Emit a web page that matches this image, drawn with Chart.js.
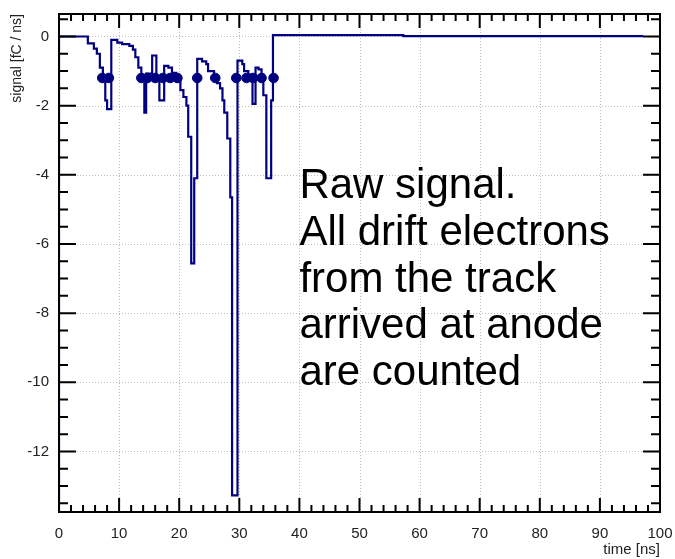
<!DOCTYPE html>
<html><head><meta charset="utf-8">
<script src="https://cdn.jsdelivr.net/npm/chart.js@4/dist/chart.umd.min.js"></script>
<style>html,body{margin:0;padding:0;background:#fff}#wrap{position:relative;width:675px;height:559px}</style>
</head><body><div id="wrap"><canvas id="c"></canvas></div>
<script>
// ---- data ----
const timeNs = [0, 0, 4.8, 5.8, 6.3, 6.8, 7.3, 7.7, 8.0, 8.7, 9.7, 10.5, 11.7, 12.3, 12.7, 13.2, 13.7, 14.2, 14.5, 15.5,
  16.2, 16.7, 17.5, 18.2, 18.8, 19.5, 20.2, 20.7, 21.2, 21.5, 22.0, 22.5, 23.0, 23.8, 24.5, 24.8, 25.8, 26.3, 26.8, 27.2,
  27.5, 28.0, 28.5, 28.8, 29.7, 30.5, 30.8, 31.5, 32.2, 32.7, 33.2, 33.7, 34.0, 34.5, 35.3, 35.6, 57.3, 97.2];
const signalFCns = [-13.75, 0, -0.2, -0.35, -0.5, -0.9, -1.2, -1.85, -2.1, -0.1, -0.18, -0.22, -0.27, -0.38, -0.6, -0.9, -1.2, -2.2, -1.07, -0.55,
  -1.2, -1.85, -0.85, -0.9, -1.05, -1.3, -1.55, -1.75, -2.0, -2.9, -6.56, -4.1, -0.65, -0.72, -0.8, -1.0, -1.2, -1.35, -1.5, -1.85,
  -2.2, -2.95, -4.65, -13.27, -0.7, -0.8, -1.0, -1.1, -1.95, -0.9, -0.95, -1.1, -1.7, -4.1, -1.85, 0.04, 0.01, 0.01];
const clusterTimes = [7.2, 8.3, 13.7, 14.7, 16.0, 17.3, 18.5, 19.7, 23.0, 26.0, 29.5, 31.2, 32.3, 33.7, 35.7];
const clusterLevel = [-1.2, -1.2, -1.2, -1.2, -1.2, -1.2, -1.2, -1.2, -1.2, -1.2, -1.2, -1.2, -1.2, -1.2, -1.2];
const xTicks = [0, 10, 20, 30, 40, 50, 60, 70, 80, 90, 100];
const yTicks = [0, -2, -4, -6, -8, -10, -12];
const xRange = [0, 100];
const yRange = [-13.75, 0.65];
const noteLines = ["Raw signal.", "All drift electrons", "from the track", "arrived at anode", "are counted"];

const NAVY = '#000080';
const FONT = '"Liberation Sans", Arial, sans-serif';

const rootFrame = {
  id: 'rootFrame',
  beforeDatasetsDraw(chart) {
    const {ctx, chartArea: a, scales: {x, y}} = chart;
    ctx.save();
    ctx.strokeStyle = '#bdbdbd'; ctx.lineWidth = 1; ctx.setLineDash([1, 2]);
    xTicks.forEach(v => {
      if (v <= x.min || v >= x.max) return;
      const px = Math.round(x.getPixelForValue(v)) + 0.5;
      ctx.beginPath(); ctx.moveTo(px, a.top); ctx.lineTo(px, a.bottom); ctx.stroke();
    });
    yTicks.forEach(v => {
      const py = Math.round(y.getPixelForValue(v)) + 0.5;
      ctx.beginPath(); ctx.moveTo(a.left, py); ctx.lineTo(a.right, py); ctx.stroke();
    });
    ctx.restore();
  },
  afterDatasetsDraw(chart) {
    const {ctx, chartArea: a, scales: {x, y}} = chart;
    ctx.save();
    ctx.strokeStyle = '#000'; ctx.lineWidth = 2;
    for (let i = 0; i <= 50; i++) {
      const v = i * 2; const major = (i % 5 === 0);
      const px = x.getPixelForValue(v); const len = major ? 14 : 7;
      ctx.beginPath(); ctx.moveTo(px, a.bottom); ctx.lineTo(px, a.bottom - len);
      ctx.moveTo(px, a.top); ctx.lineTo(px, a.top + len); ctx.stroke();
    }
    for (let i = -27; i <= 1; i++) {
      const v = i * 0.5; const major = (i % 4 === 0);
      const py = y.getPixelForValue(v); const len = major ? 17 : 9;
      ctx.beginPath(); ctx.moveTo(a.left, py); ctx.lineTo(a.left + len, py);
      ctx.moveTo(a.right, py); ctx.lineTo(a.right - len, py); ctx.stroke();
    }
    ctx.strokeRect(a.left, a.top, a.right - a.left, a.bottom - a.top);
    ctx.restore();
  },
  afterDraw(chart) {
    const {ctx, scales: {x}} = chart;
    ctx.save();
    ctx.fillStyle = '#000'; ctx.font = '42px ' + FONT; ctx.textBaseline = 'alphabetic';
    const left = x.getPixelForValue(40);
    noteLines.forEach((t, i) => ctx.fillText(t, left, 198 + i * 46.8));
    ctx.restore();
  }
};

new Chart(document.getElementById('c'), {
  type: 'line',
  data: {
    datasets: [
      {
        data: timeNs.map((t, i) => ({x: t, y: signalFCns[i]})),
        stepped: 'before', borderColor: NAVY, borderWidth: 2.2, pointRadius: 0, fill: false, order: 2
      },
      {
        data: clusterTimes.map((t, i) => ({x: t, y: clusterLevel[i]})),
        showLine: false, pointRadius: 4.8, pointBackgroundColor: NAVY, pointBorderColor: NAVY, order: 1
      }
    ]
  },
  options: {
    responsive: true, maintainAspectRatio: false, animation: false,
    layout: {padding: {left: 0, right: 15, top: 14, bottom: 0}},
    plugins: {legend: {display: false}, tooltip: {enabled: false}},
    scales: {
      x: {
        type: 'linear', min: xRange[0], max: xRange[1],
        afterFit(s) { s.height = 47; s.paddingLeft = 0; s.paddingRight = 0; },
        afterBuildTicks(s) { s.ticks = xTicks.map(v => ({value: v})); },
        grid: {display: false, drawTicks: false},
        border: {display: false},
        ticks: {padding: 13, color: '#222', font: {family: FONT, size: 15}, maxRotation: 0},
        title: {display: true, text: 'time [ns]', align: 'end', color: '#222', font: {family: FONT, size: 15}, padding: {top: 0, bottom: 0}}
      },
      y: {
        type: 'linear', min: yRange[0], max: yRange[1],
        afterFit(s) { s.width = 59; s.paddingTop = 0; s.paddingBottom = 0; },
        afterBuildTicks(s) { s.ticks = yTicks.map(v => ({value: v})); },
        grid: {display: false, drawTicks: false},
        border: {display: false},
        ticks: {padding: 10, color: '#222', font: {family: FONT, size: 15}},
        title: {display: true, text: 'signal [fC / ns]', align: 'end', color: '#222', font: {family: FONT, size: 14}, padding: {top: 9, bottom: 4}}
      }
    }
  },
  plugins: [rootFrame]
});
</script>
</body></html>
